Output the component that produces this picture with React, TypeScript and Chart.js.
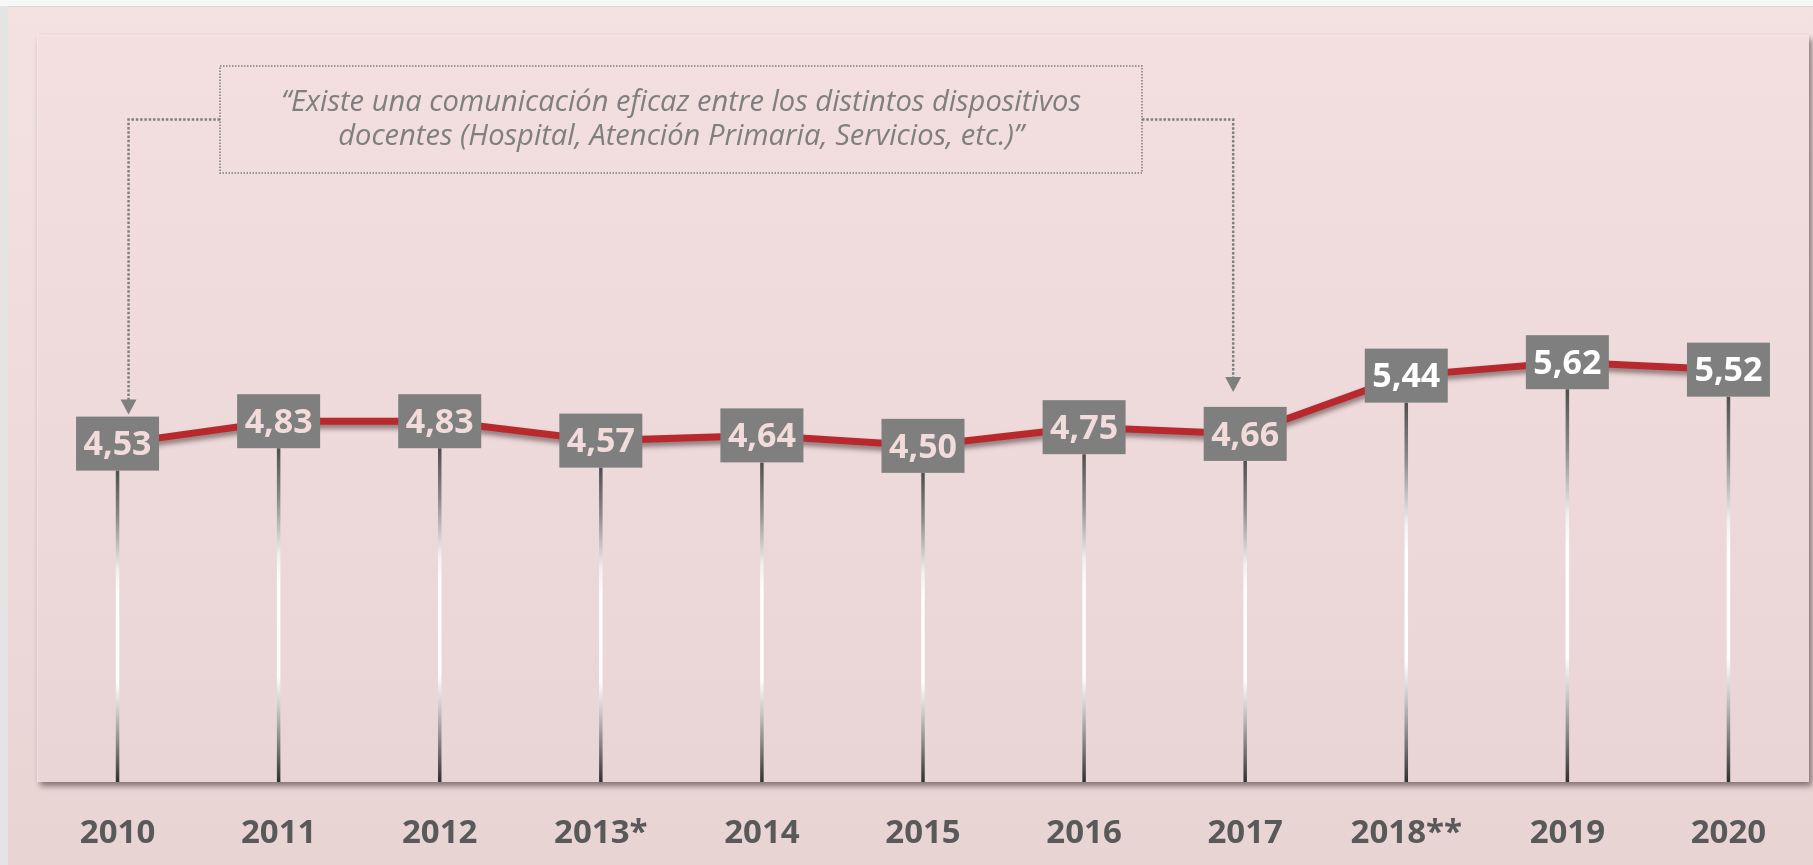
import React, { useEffect, useRef } from "react";
import { Chart, registerables } from "chart.js";

Chart.register(...registerables);

const years = ["2010", "2011", "2012", "2013*", "2014", "2015", "2016", "2017", "2018**", "2019", "2020"];
const scores = [4.53, 4.83, 4.83, 4.57, 4.64, 4.5, 4.75, 4.66, 5.44, 5.62, 5.52];
const valueLabels = ["4,53", "4,83", "4,83", "4,57", "4,64", "4,50", "4,75", "4,66", "5,44", "5,62", "5,52"];
const highlightFrom = "2018**";
const quoteLines = [
  "\u201CExiste una comunicación eficaz entre los distintos dispositivos",
  "docentes (Hospital, Atención Primaria, Servicios, etc.)\u201D",
];
const quoteFrom = "2010";
const quoteTo = "2017";

const W = 1813;
const H = 865;
const BOX_W = 83;
const BOX_H = 54;

const backgroundPlugin = {
  id: "bg",
  beforeDraw(chart: any) {
    const { ctx, chartArea: ca } = chart;
    ctx.save();
    ctx.fillStyle = "#e4e4e4";
    ctx.fillRect(0, 0, W, H);
    ctx.fillStyle = "#f7f7f7";
    ctx.fillRect(0, 0, W, 6);
    ctx.fillStyle = "#d6d6d6";
    ctx.fillRect(8, 6, W - 8, 1);
    const g = ctx.createLinearGradient(0, 7, 0, H);
    g.addColorStop(0, "#f4e1e1");
    g.addColorStop(1, "#e9d4d4");
    ctx.fillStyle = g;
    ctx.fillRect(8, 7, W - 8, H - 7);
    ctx.save();
    ctx.shadowColor = "rgba(50,30,30,0.55)";
    ctx.shadowBlur = 6;
    ctx.shadowOffsetX = 3;
    ctx.shadowOffsetY = 4;
    const pg = ctx.createLinearGradient(0, ca.top, 0, ca.bottom);
    pg.addColorStop(0, "#f3dfdf");
    pg.addColorStop(1, "#e9d5d5");
    ctx.fillStyle = pg;
    ctx.fillRect(ca.left, ca.top, ca.right - ca.left, ca.bottom - ca.top);
    ctx.restore();
    ctx.strokeStyle = "rgba(255,255,255,0.25)";
    ctx.lineWidth = 1;
    ctx.beginPath();
    ctx.moveTo(ca.left + 0.5, ca.bottom);
    ctx.lineTo(ca.left + 0.5, ca.top + 0.5);
    ctx.lineTo(ca.right, ca.top + 0.5);
    ctx.stroke();
    ctx.restore();
  },
};

const dropLinePlugin = {
  id: "drop",
  beforeDatasetsDraw(chart: any) {
    const { ctx, chartArea: ca } = chart;
    const meta = chart.getDatasetMeta(0);
    ctx.save();
    meta.data.forEach((pt: any) => {
      const y0 = pt.y + BOX_H / 2;
      const y1 = ca.bottom;
      const g = ctx.createLinearGradient(0, y0, 0, y1);
      g.addColorStop(0, "#4f4f4f");
      g.addColorStop(0.15, "#8a8a8a");
      g.addColorStop(0.32, "#f0f0f0");
      g.addColorStop(0.4, "#ffffff");
      g.addColorStop(0.68, "#ffffff");
      g.addColorStop(0.78, "#c8c8c8");
      g.addColorStop(0.9, "#777777");
      g.addColorStop(1, "#303030");
      ctx.strokeStyle = g;
      ctx.lineWidth = 3.5;
      ctx.beginPath();
      ctx.moveTo(pt.x, y0);
      ctx.lineTo(pt.x, y1);
      ctx.stroke();
    });
    ctx.restore();
  },
  beforeDatasetDraw(chart: any) {
    const ctx = chart.ctx;
    ctx.save();
    ctx.shadowColor = "rgba(60,40,40,0.55)";
    ctx.shadowBlur = 5;
    ctx.shadowOffsetX = 0;
    ctx.shadowOffsetY = 4;
  },
  afterDatasetDraw(chart: any) {
    chart.ctx.restore();
  },
};

const labelPlugin = {
  id: "valueBoxes",
  afterDatasetsDraw(chart: any) {
    const { ctx } = chart;
    const meta = chart.getDatasetMeta(0);
    const hi = years.indexOf(highlightFrom);
    ctx.save();
    ctx.font = 'bold 34px "Open Sans"';
    ctx.textAlign = "center";
    ctx.textBaseline = "middle";
    meta.data.forEach((pt: any, i: number) => {
      ctx.fillStyle = "#7f7f7f";
      ctx.fillRect(pt.x - BOX_W / 2, pt.y - BOX_H / 2, BOX_W, BOX_H);
      ctx.fillStyle = i >= hi ? "#ffffff" : "#f2dcdb";
      ctx.fillText(valueLabels[i], pt.x, pt.y + 2);
    });
    ctx.restore();
  },
};

function arrowDown(ctx: any, x: number, tipY: number) {
  ctx.beginPath();
  ctx.moveTo(x - 8, tipY - 15);
  ctx.lineTo(x + 8, tipY - 15);
  ctx.lineTo(x, tipY);
  ctx.closePath();
  ctx.fill();
}

const annotationPlugin = {
  id: "quote",
  afterDraw(chart: any) {
    const { ctx, chartArea: ca } = chart;
    const meta = chart.getDatasetMeta(0);
    const pA = meta.data[years.indexOf(quoteFrom)];
    const pB = meta.data[years.indexOf(quoteTo)];
    const bx0 = ca.left + 183;
    const bx1 = ca.left + 1105;
    const by0 = ca.top + 31;
    const by1 = ca.top + 138;
    const cy = (by0 + by1) / 2;
    ctx.save();
    ctx.strokeStyle = "#7f7f7f";
    ctx.fillStyle = "#7f7f7f";
    ctx.lineWidth = 1.5;
    ctx.setLineDash([1.5, 1.5]);
    ctx.strokeRect(bx0, by0, bx1 - bx0, by1 - by0);
    ctx.lineWidth = 2.5;
    ctx.setLineDash([2.5, 1.8]);
    const ax = pA.x + 11;
    const aTip = pA.y - BOX_H / 2 - 2;
    ctx.beginPath();
    ctx.moveTo(bx0, cy);
    ctx.lineTo(ax, cy);
    ctx.lineTo(ax, aTip - 14);
    ctx.stroke();
    const bxp = pB.x - 12;
    const bTip = pB.y - BOX_H / 2 - 15;
    ctx.beginPath();
    ctx.moveTo(bx1, cy);
    ctx.lineTo(bxp, cy);
    ctx.lineTo(bxp, bTip - 14);
    ctx.stroke();
    ctx.setLineDash([]);
    arrowDown(ctx, ax, aTip);
    arrowDown(ctx, bxp, bTip);
    ctx.font = 'italic 30px "Open Sans"';
    ctx.textAlign = "center";
    ctx.textBaseline = "alphabetic";
    const w0 = ctx.measureText(quoteLines[0]).width;
    const s = 800 / w0;
    const cx = (bx0 + bx1) / 2;
    quoteLines.forEach((line, i) => {
      ctx.save();
      ctx.translate(cx, by0 + 45 + i * 34);
      ctx.scale(s, 1);
      ctx.fillText(line, 0, 0);
      ctx.restore();
    });
    ctx.restore();
  },
};

export default function App() {
  const ref = useRef<HTMLCanvasElement>(null);
  useEffect(() => {
    if (!ref.current) return;
    const chart = new Chart(ref.current, {
      type: "line",
      data: {
        labels: years,
        datasets: [
          {
            data: scores,
            borderColor: "#b8292e",
            borderWidth: 7,
            pointRadius: 0,
            tension: 0,
            fill: false,
          },
        ],
      },
      options: {
        responsive: false,
        animation: false,
        devicePixelRatio: 1,
        layout: { padding: { left: 37, right: 4, top: 35, bottom: 0 } },
        plugins: { legend: { display: false }, tooltip: { enabled: false } },
        scales: {
          x: {
            type: "category",
            offset: true,
            grid: { display: false, drawTicks: false },
            border: { display: false },
            ticks: {
              color: "#595959",
              font: { family: "Open Sans", weight: "bold", size: 33 },
              padding: 32,
              maxRotation: 0,
              autoSkip: false,
            },
            afterFit: (s: any) => {
              s.height = 83;
            },
          },
          y: { display: false, min: 0, max: 10 },
        },
      },
      plugins: [backgroundPlugin, dropLinePlugin, labelPlugin, annotationPlugin],
    } as any);
    return () => chart.destroy();
  }, []);
  return (
    <div style={{ position: "fixed", left: 0, top: 0, width: W, height: H }}>
      <canvas ref={ref} width={W} height={H} style={{ width: W, height: H, display: "block" }} />
    </div>
  );
}
